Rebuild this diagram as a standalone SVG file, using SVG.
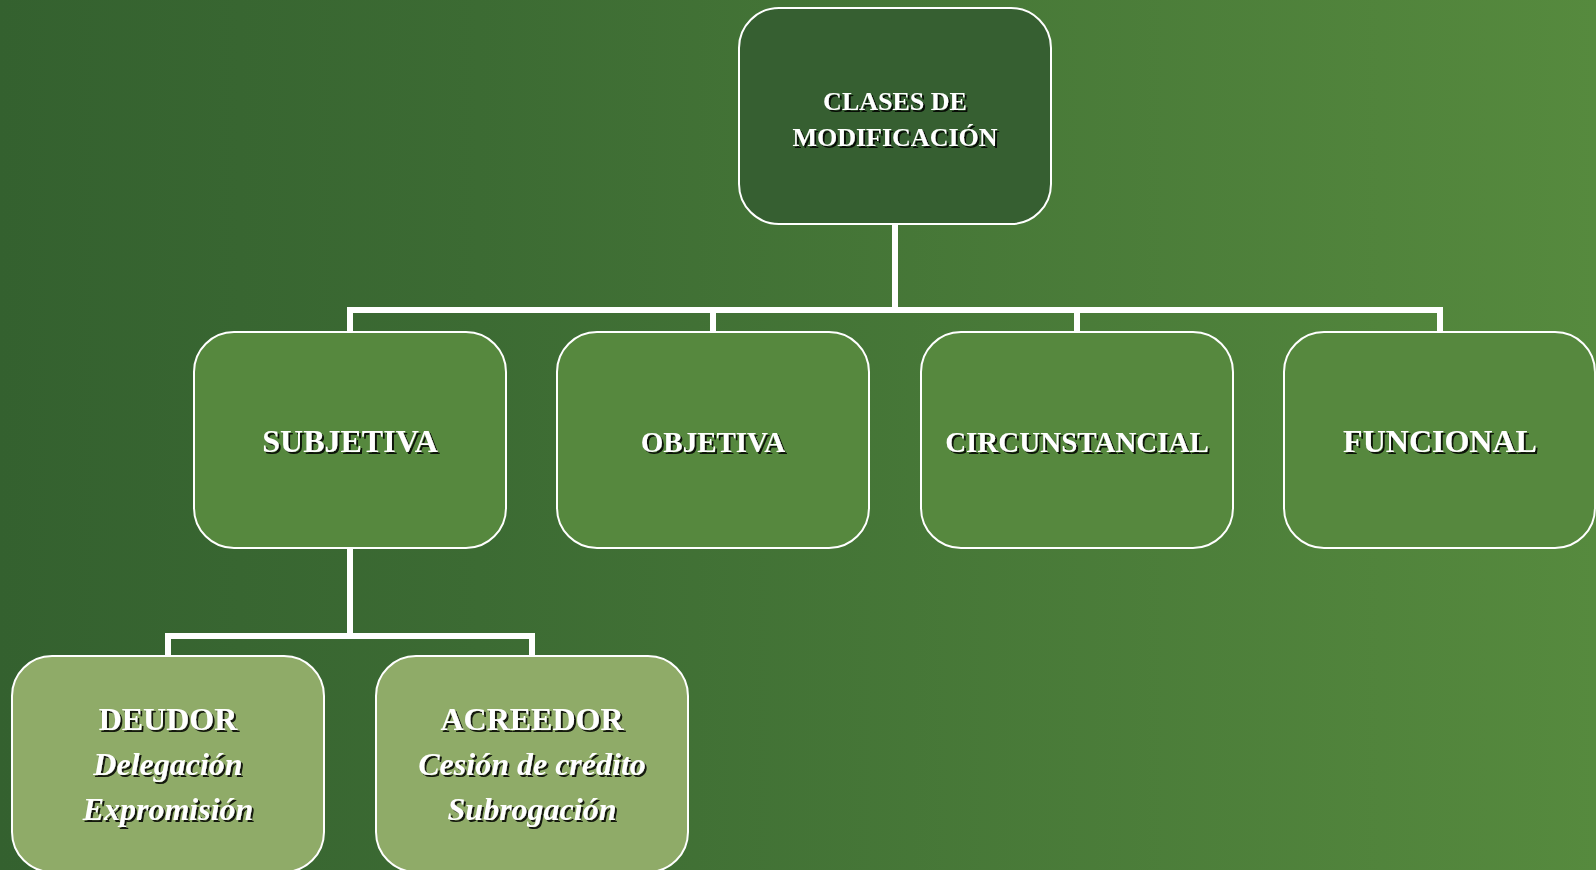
<svg xmlns="http://www.w3.org/2000/svg" width="1596" height="870" viewBox="0 0 1596 870">
<defs>
<linearGradient id="bg" x1="0" y1="0" x2="1" y2="0">
<stop offset="0" stop-color="#34612f"/>
<stop offset="0.3" stop-color="#3c6b33"/>
<stop offset="1" stop-color="#568a3e"/>
</linearGradient>
<filter id="sh" x="-10%" y="-20%" width="120%" height="150%">
<feDropShadow dx="2" dy="2" stdDeviation="0.6" flood-color="#000" flood-opacity="0.85"/>
</filter>
</defs>
<style>
.box{stroke:#fff;stroke-width:2}
.l0{fill:#365f31}
.l1{fill:#56883e}
.l2{fill:#8fab68}
text{font-family:"Liberation Serif","Times New Roman",serif;font-weight:bold;fill:#fff;text-anchor:middle;filter:url(#sh)}
.t0{font-size:26px}
.t1{font-size:32px}
.t1s{font-size:29px}
.it{font-style:italic}
.con{fill:none;stroke:#fff;stroke-width:6;stroke-linejoin:miter}
</style>
<rect width="1596" height="870" fill="url(#bg)"/>
<g id="connectors">
<path class="con" d="M895 223 V310 H350 V332"/>
<path class="con" d="M895 310 H713 V332"/>
<path class="con" d="M895 310 H1077 V332"/>
<path class="con" d="M895 310 H1440 V332"/>
<path class="con" d="M350 548 V636 H168 V656"/>
<path class="con" d="M350 636 H532 V656"/>
</g>
<g id="n-clases">
<rect class="box l0" x="739" y="8" width="312" height="216" rx="40"/>
<text class="t0" x="895" y="110">CLASES DE</text>
<text class="t0" x="895" y="146">MODIFICACIÓN</text>
</g>
<g id="n-subjetiva">
<rect class="box l1" x="194" y="332" width="312" height="216" rx="40"/>
<text class="t1" x="350" y="452">SUBJETIVA</text>
</g>
<g id="n-objetiva">
<rect class="box l1" x="557" y="332" width="312" height="216" rx="40"/>
<text class="t1s" x="713" y="452">OBJETIVA</text>
</g>
<g id="n-circunstancial">
<rect class="box l1" x="921" y="332" width="312" height="216" rx="40"/>
<text class="t1s" x="1077" y="452">CIRCUNSTANCIAL</text>
</g>
<g id="n-funcional">
<rect class="box l1" x="1284" y="332" width="311" height="216" rx="40"/>
<text class="t1" x="1440" y="452">FUNCIONAL</text>
</g>
<g id="n-deudor">
<rect class="box l2" x="12" y="656" width="312" height="216" rx="40"/>
<text class="t1" x="168" y="730">DEUDOR</text>
<text class="t1 it" x="168" y="775">Delegación</text>
<text class="t1 it" x="168" y="820">Expromisión</text>
</g>
<g id="n-acreedor">
<rect class="box l2" x="376" y="656" width="312" height="216" rx="40"/>
<text class="t1" x="532" y="730">ACREEDOR</text>
<text class="t1 it" x="532" y="775">Cesión de crédito</text>
<text class="t1 it" x="532" y="820">Subrogación</text>
</g>
</svg>
